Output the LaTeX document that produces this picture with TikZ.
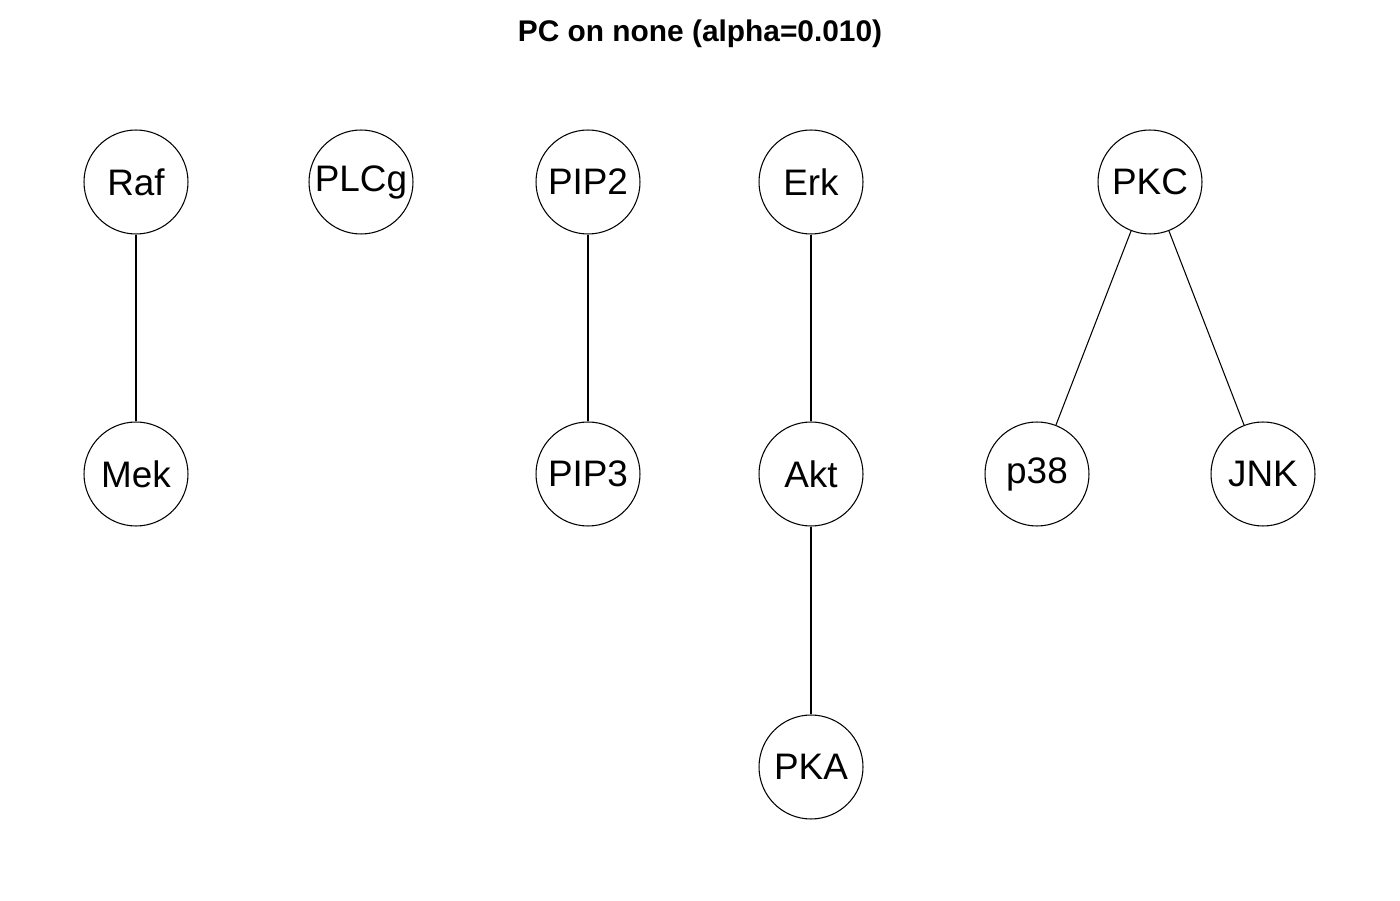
\documentclass[tikz,border=0pt]{standalone}
\usepackage{fontspec}
\setmainfont{Liberation Sans}
\usepackage{tikz}
\usetikzlibrary{positioning}
\tikzset{
  %% -- graph vertex --
  G/vert/.style={
    draw, circle, line width=0.6pt, minimum size=2.08cm,
    inner sep=0pt, font=\fontsize{21}{24}\selectfont
  },
  %% -- undirected edge --
  G/edge/.style={draw, line width=0.6pt},
  %% -- plot title --
  G/title/.style={font=\fontsize{17}{20}\selectfont\bfseries}
}
\begin{document}
\begin{tikzpicture}[x=0.02cm, y=0.02cm]
\useasboundingbox (0,0) rectangle (1400,900);

%% Title
\node[G/title] (title) at (700,866) {PC on none (alpha=0.010)};

%% Vertices
\node[G/vert] (raf)  at (136,718)  {Raf};
\node[G/vert] (mek)  at (136,426)  {Mek};
\node[G/vert] (plcg) at (361,718)  {PLCg};
\node[G/vert] (pip2) at (588,718)  {PIP2};
\node[G/vert] (pip3) at (588,426)  {PIP3};
\node[G/vert] (erk)  at (811,718)  {Erk};
\node[G/vert] (akt)  at (811,426)  {Akt};
\node[G/vert] (pka)  at (811,133)  {PKA};
\node[G/vert] (pkc)  at (1150,718) {PKC};
\node[G/vert] (p38)  at (1037,426) {p38};
\node[G/vert] (jnk)  at (1263,426) {JNK};

%% Edges
\draw[G/edge] (raf) -- (mek);
\draw[G/edge] (pip2) -- (pip3);
\draw[G/edge] (erk) -- (akt);
\draw[G/edge] (akt) -- (pka);
\draw[G/edge] (pkc) -- (p38);
\draw[G/edge] (pkc) -- (jnk);
\end{tikzpicture}
\end{document}
